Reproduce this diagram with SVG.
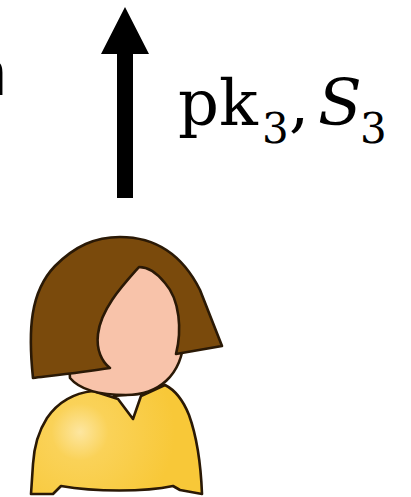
<svg xmlns="http://www.w3.org/2000/svg" width="411" height="497" viewBox="0 0 411 497">
  <defs>
    <radialGradient id="sweaterGlow" cx="80" cy="432" r="95" gradientUnits="userSpaceOnUse">
      <stop offset="0" stop-color="#FDE6A0"/>
      <stop offset="0.3" stop-color="#FAD258"/>
      <stop offset="1" stop-color="#F8C838"/>
    </radialGradient>
  </defs>
  <style>
    .math { font-family: "DejaVu Serif", "Liberation Serif", serif; fill: #000; }
    .big { font-size: 64px; }
    .sub { font-size: 42px; }
    .ink { stroke: #2A1906; stroke-width: 2.6; stroke-linejoin: round; stroke-linecap: round; }
  </style>

  <!-- glyph running in from the left edge -->
  <g id="edge-text">
    <text x="-29" y="95" font-family="Liberation Sans, Arial, sans-serif" font-size="64" fill="#000">n</text>
  </g>

  <!-- upward transfer arrow -->
  <g id="connectors">
    <polygon points="125,7 149,54 133,54 133,198 117,198 117,54 101,54" fill="#000"/>
  </g>

  <!-- label beside the arrow -->
  <g id="label">
    <text class="math big" x="178" y="125">pk</text>
    <text class="math sub" x="262" y="143">3</text>
    <text class="math big" x="289" y="125">,</text>
    <text class="math big" x="318" y="125" font-style="italic">S</text>
    <text class="math sub" x="360" y="143">3</text>
  </g>

  <!-- user avatar -->
  <g id="user">
    <!-- white shirt collar -->
    <path d="M114 396 L146 393 L133 420 Z" fill="#FFFFFF" class="ink"/>
    <!-- sweater -->
    <path class="ink" fill="url(#sweaterGlow)"
          d="M93 391 C75 393 58 402 47 418 C38 432 34 448 33 464 L31 494 L53 494 L61 486 C95 492 145 492 173 486 L180 490 L202 494
             C201 468 198 440 189 415 C183 400 175 390 165 385 L141 396 L133 419 L118 399 Z"/>
    <!-- face -->
    <path class="ink" fill="#F8C3AA"
          d="M139 262 C170 262 186 300 184 338 C182 376 158 395 126 395 C98 395 80 390 70 378 L66 320 Z"/>
    <!-- hair -->
    <path class="ink" fill="#7A4A0C"
          d="M33 378 C28 330 30 292 55 266 C75 246 95 237 120 237 C158 237 184 258 200 290 L222 346 L176 354
             C182 330 180 300 165 283 C157 273 148 267 139 267 C124 284 101 308 98 334 C96 350 102 362 110 368
             C85 372 58 375 33 378 Z"/>
  </g>
</svg>
